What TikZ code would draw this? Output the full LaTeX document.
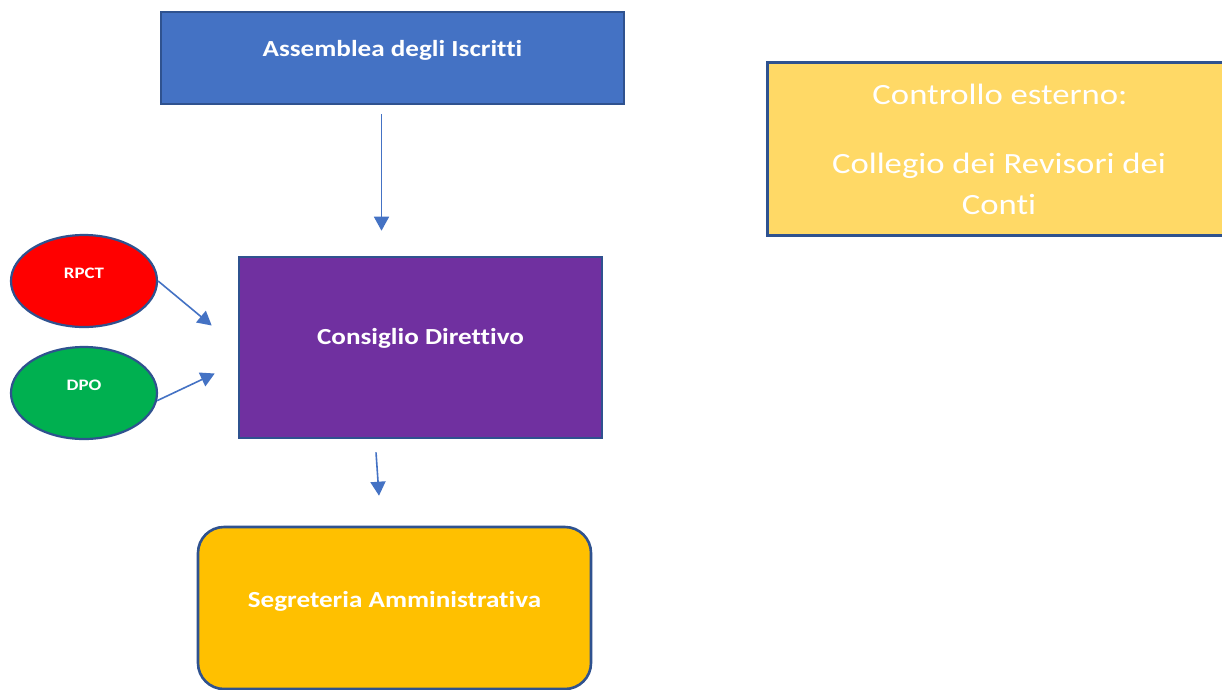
\documentclass[tikz,border=0pt]{standalone}
\usepackage{fontspec}
\setmainfont{Carlito}[FakeStretch=1.18,RawFeature={-liga;-clig;-dlig}]
\usetikzlibrary{arrows.meta,shapes.geometric}
\definecolor{blueA}{HTML}{4472C4}
\definecolor{edgeC}{HTML}{2F528F}
\definecolor{purpC}{HTML}{7030A0}
\definecolor{yelC}{HTML}{FFD966}
\definecolor{orC}{HTML}{FFC000}
\definecolor{redC}{HTML}{FF0000}
\definecolor{grnC}{HTML}{00B050}
\tikzset{
  box/.style={draw=edgeC, line width=2.6pt, inner sep=0pt},
  oval/.style={ellipse, draw=edgeC, line width=2.2pt, minimum width=146pt, minimum height=92pt, inner sep=0pt},
  bigtxt/.style={text=white, font=\fontsize{23}{27}\selectfont\bfseries, anchor=base, inner sep=0pt},
  smtxt/.style={text=white, font=\fontsize{16}{19}\selectfont\bfseries, anchor=base, inner sep=0pt},
  regtxt/.style={text=white, font=\fontsize{29.4}{34}\selectfont, anchor=base, inner sep=0pt},
  arr/.style={draw=blueA, line width=1.6pt, -{Triangle[length=14pt,width=15pt]}}
}
\begin{document}
\begin{tikzpicture}[x=1pt,y=-1pt]
\clip (0,0) rectangle (1222,689);
\fill[white] (0,0) rectangle (1222,689);
% boxes
\node[box, fill=blueA, minimum width=463pt, minimum height=92pt] (ass) at (392.5,58) {};
\node[bigtxt] (asst) at (392.5,56) {Assemblea degli Iscritti};
\node[box, fill=yelC, line width=3pt, minimum width=470pt, minimum height=173pt] (ctrl) at (1002,148.5) {};
\node[regtxt] (ct1) at (1000,104) {Controllo esterno:};
\node[regtxt] (ct2) at (999,173) {Collegio dei Revisori dei};
\node[regtxt] (ct3) at (999,214) {Conti};
\node[box, fill=purpC, minimum width=363pt, minimum height=181pt] (cons) at (420.5,347.5) {};
\node[bigtxt] (const) at (420.5,344) {Consiglio Direttivo};
\node[box, fill=orC, rounded corners=26pt, minimum width=393pt, minimum height=162pt] (seg) at (394.5,608) {};
\node[bigtxt] (segt) at (394.5,607) {Segreteria Amministrativa};
\node[oval, fill=redC] (rpct) at (84,281) {};
\node[smtxt] at (84,278) {RPCT};
\node[oval, fill=grnC] (dpo) at (84,393) {};
\node[smtxt] at (84,390) {DPO};
% connectors
\draw[arr] ([xshift=-11pt,yshift=-9pt]ass.south) -- ([xshift=-39pt,yshift=25pt]cons.north);
\draw[arr] (rpct.east) -- ([xshift=-26pt,yshift=22pt]cons.west);
\draw[arr] (dpo.-6) -- ([xshift=-23pt,yshift=-26pt]cons.west);
\draw[arr] ([xshift=-44.5pt,yshift=-13pt]cons.south) -- ([xshift=-15.5pt,yshift=30pt]seg.north);
\end{tikzpicture}
\end{document}
